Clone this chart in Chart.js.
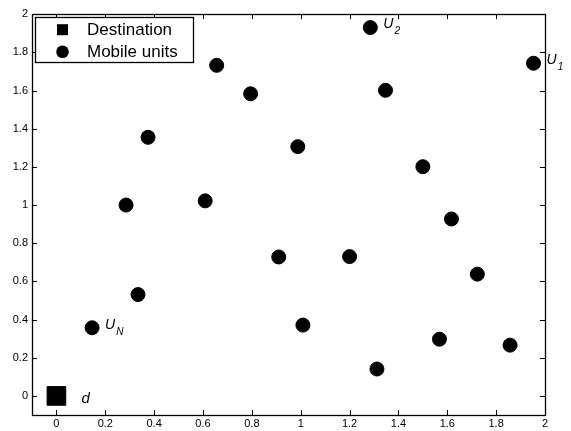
<!DOCTYPE html>
<html>
<head>
<meta charset="utf-8">
<script src="https://cdn.jsdelivr.net/npm/chart.js@4.4.1/dist/chart.umd.min.js"></script>
<style>
  body { margin: 0; background: #fff; }
  canvas { display: block; }
</style>
</head>
<body>
<canvas id="chart" width="571" height="431"></canvas>
<script>
// axis ticks
const xTicks = [0, 0.2, 0.4, 0.6, 0.8, 1, 1.2, 1.4, 1.6, 1.8, 2];
const yTicks = [0, 0.2, 0.4, 0.6, 0.8, 1, 1.2, 1.4, 1.6, 1.8, 2];

// destination
const destX = [0];
const destY = [0];
const destNames = ['d'];

// mobile units
const unitsX = [1.953, 1.285, 0.656, 0.795, 1.347, 0.375, 0.988, 1.500, 0.285, 0.609,
                1.617, 0.910, 1.200, 1.723, 0.334, 1.009, 0.146, 1.568, 1.857, 1.312];
const unitsY = [1.743, 1.930, 1.732, 1.583, 1.601, 1.355, 1.306, 1.201, 1.000, 1.022,
                0.927, 0.728, 0.730, 0.638, 0.531, 0.371, 0.357, 0.297, 0.266, 0.141];
const unitNames = ['U_1', 'U_2', '', '', '', '', '', '', '', '',
                   '', '', '', '', '', '', 'U_N', '', '', ''];

const seriesLabels = ['Destination', 'Mobile units'];

const FONT = '"Liberation Sans", Arial, Helvetica, sans-serif';

// box round the axes with inward ticks, like the original figure
const framePlugin = {
  id: 'frame',
  beforeDatasetsDraw(chart) {
    const { ctx, chartArea: a, scales } = chart;
    ctx.save();
    ctx.strokeStyle = '#000';
    ctx.lineWidth = 1;
    ctx.beginPath();
    scales.x.ticks.forEach(t => {
      const px = Math.round(scales.x.getPixelForValue(t.value)) + 0.5;
      ctx.moveTo(px, a.bottom); ctx.lineTo(px, a.bottom - 5);
      ctx.moveTo(px, a.top); ctx.lineTo(px, a.top + 5);
    });
    scales.y.ticks.forEach(t => {
      const py = Math.round(scales.y.getPixelForValue(t.value)) + 0.5;
      ctx.moveTo(a.left, py); ctx.lineTo(a.left + 5, py);
      ctx.moveTo(a.right, py); ctx.lineTo(a.right - 5, py);
    });
    ctx.stroke();
    ctx.lineWidth = 1.3;
    ctx.strokeRect(Math.round(a.left) + 0.5, Math.round(a.top) + 0.5,
                   Math.round(a.right - a.left), Math.round(a.bottom - a.top));
    ctx.restore();
  },
  afterDatasetsDraw(chart) {
    const { ctx } = chart;
    ctx.save();
    ctx.fillStyle = '#000';
    ctx.textBaseline = 'middle';
    // point names
    const drawName = (name, x, y, dx, dy, size) => {
      if (!name) return;
      const parts = name.split('_');
      ctx.font = 'italic ' + size + 'px ' + FONT;
      ctx.textAlign = 'left';
      ctx.fillText(parts[0], x + dx, y + dy);
      if (parts[1]) {
        const w = ctx.measureText(parts[0]).width;
        ctx.font = 'italic 10px ' + FONT;
        ctx.fillText(parts[1], x + dx + w + 1, y + dy + 7);
      }
    };
    chart.getDatasetMeta(0).data.forEach((p, i) => drawName(destNames[i], p.x, p.y, 25, 3, 15));
    chart.getDatasetMeta(1).data.forEach((p, i) => drawName(unitNames[i], p.x, p.y, 13, -3, 14));

    // legend in the upper left corner
    const a = chart.chartArea;
    const lx = a.left + 3, ly = a.top + 3, lw = 158, lh = 45;
    ctx.fillStyle = '#fff';
    ctx.fillRect(lx, ly, lw, lh);
    ctx.strokeStyle = '#000';
    ctx.lineWidth = 1.3;
    ctx.strokeRect(Math.round(lx) + 0.5, Math.round(ly) + 0.5, lw, lh);
    ctx.fillStyle = '#000';
    const rows = [ly + 12.5, ly + 34.5];
    ctx.fillRect(lx + 22, rows[0] - 5.5, 11, 11);
    ctx.beginPath();
    ctx.arc(lx + 27.5, rows[1], 6.3, 0, Math.PI * 2);
    ctx.fill();
    ctx.font = '17px ' + FONT;
    ctx.textAlign = 'left';
    seriesLabels.forEach((s, i) => ctx.fillText(s, lx + 52, rows[i] + 1));
    ctx.restore();
  }
};

const fmt = v => String(Math.round(v * 10) / 10);

new Chart(document.getElementById('chart'), {
  type: 'scatter',
  data: {
    datasets: [
      {
        label: seriesLabels[0],
        data: destX.map((x, i) => ({ x: x, y: destY[i] })),
        pointStyle: 'rect',
        pointRadius: 13.2,
        backgroundColor: '#000',
        borderColor: '#000',
        borderWidth: 1
      },
      {
        label: seriesLabels[1],
        data: unitsX.map((x, i) => ({ x: x, y: unitsY[i] })),
        pointStyle: 'circle',
        pointRadius: 7,
        backgroundColor: '#000',
        borderColor: '#000',
        borderWidth: 1
      }
    ]
  },
  options: {
    responsive: false,
    animation: false,
    clip: false,
    layout: { padding: { left: 0, right: 26, top: 10.5, bottom: 0 } },
    plugins: {
      legend: { display: false },
      tooltip: { enabled: false }
    },
    scales: {
      x: {
        type: 'linear',
        min: -0.1,
        max: 2,
        afterBuildTicks: s => { s.ticks = xTicks.map(v => ({ value: v })); },
        afterFit: s => { s.height = 16; },
        grid: { display: false, drawTicks: false },
        border: { display: false },
        ticks: {
          padding: 2,
          color: '#000',
          font: { family: FONT, size: 11 },
          callback: fmt
        }
      },
      y: {
        type: 'linear',
        min: -0.1,
        max: 2,
        afterBuildTicks: s => { s.ticks = yTicks.map(v => ({ value: v })); },
        afterFit: s => { s.width = 32; },
        grid: { display: false, drawTicks: false },
        border: { display: false },
        ticks: {
          padding: 4,
          color: '#000',
          font: { family: FONT, size: 11 },
          callback: fmt
        }
      }
    }
  },
  plugins: [framePlugin]
});
</script>
</body>
</html>
